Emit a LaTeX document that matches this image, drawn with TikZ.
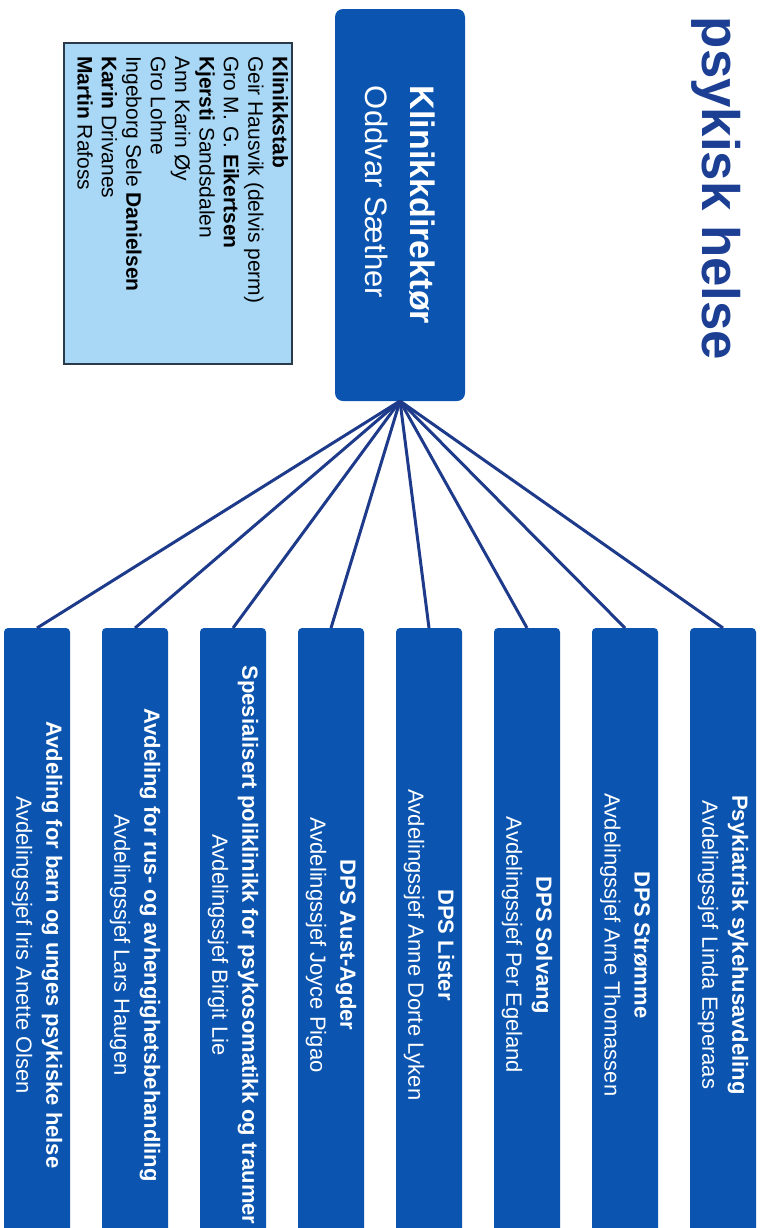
\documentclass[tikz,border=0pt]{standalone}
\usepackage{fontspec}
\setmainfont{Liberation Sans}
\usetikzlibrary{positioning}
\definecolor{c1}{HTML}{1C3F94}
\definecolor{c2}{HTML}{0B55B0}
\definecolor{c3}{HTML}{1E3A8A}
\definecolor{c4}{HTML}{A8D8F6}
\definecolor{c5}{HTML}{2B3A4A}

\begin{document}
\begin{tikzpicture}[
    x=0.5pt, y=-0.5pt,
    every node/.style={inner sep=0pt, outer sep=0pt},
    unit/.style={
        rectangle, fill=c2, rounded corners=2pt,
        minimum width=33pt, minimum height=317pt,
    },
    boss/.style={
        rectangle, fill=c2, rounded corners=4pt,
        minimum width=65pt, minimum height=196pt,
    },
    staff/.style={
        rectangle, fill=c4, draw=c5, line width=0.8pt,
        minimum width=114pt, minimum height=160.5pt,
    },
    lab/.style={rotate=-90, align=center, text=white, font=\fontsize{11}{15}\selectfont},
    link/.style={c3, line width=1.5pt},
]
\useasboundingbox (0,0) rectangle (761,1228);
\clip (0,0) rectangle (761,1228);

% ============================================================ title
\node[rotate=-90, text=c1, font=\fontsize{26.4}{30}\selectfont\bfseries]
    (title) at (716, 188.5) {psykisk helse};

% ============================================================ the director
\node[boss] (dir) at (400, 205) {};
\node[rotate=-90, align=left, text=white, font=\fontsize{17}{22.5}\selectfont]
    (dirtext) at (dir.center)
    {\bfseries Klinikkdirektør\\ \fontsize{15.5}{22.5}\selectfont Oddvar Sæther};

% ============================================================ the staff
\node[staff] (stab) at (178, 203.5) {};
\node[rotate=-90, anchor=north west, align=left, text=black,
      font=\fontsize{10.5}{12.2}\selectfont] (stabtext) at (288, 56)
    {\textbf{Klinikkstab}\\
     Geir Hausvik (delvis perm)\\
     Gro M. G. \textbf{Eikertsen}\\
     \textbf{Kjersti} Sandsdalen\\
     Ann Karin Øy\\
     Gro Lohne\\
     Ingeborg Sele \textbf{Danielsen}\\
     \textbf{Karin} Drivanes\\
     \textbf{Martin} Rafoss};

% ============================================================ the departments
\foreach \i/\x/\head/\chief in {
    1/37/{Avdeling for barn og unges psykiske helse}/{Avdelingssjef Iris Anette Olsen},
    2/135/{Avdeling for rus- og avhengighetsbehandling}/{Avdelingssjef Lars Haugen},
    3/233/{Spesialisert poliklinikk for psykosomatikk og traumer}/{Avdelingssjef Birgit Lie},
    4/331/{DPS Aust-Agder}/{Avdelingssjef Joyce Pigao},
    5/429/{DPS Lister}/{Avdelingssjef Anne Dorte Lyken},
    6/527/{DPS Solvang}/{Avdelingssjef Per Egeland},
    7/625/{DPS Strømme}/{Avdelingssjef Arne Thomassen},
    8/723/{Psykiatrisk sykehusavdeling}/{Avdelingssjef Linda Esperaas}}{
    \node[unit, anchor=north] (d\i) at (\x, 628) {};
    \node[lab] (t\i) at (d\i.center) {\textbf{\head}\\ \chief};
    \draw[link] (dir.south) -- (d\i.north);
}

\end{tikzpicture}
\end{document}
